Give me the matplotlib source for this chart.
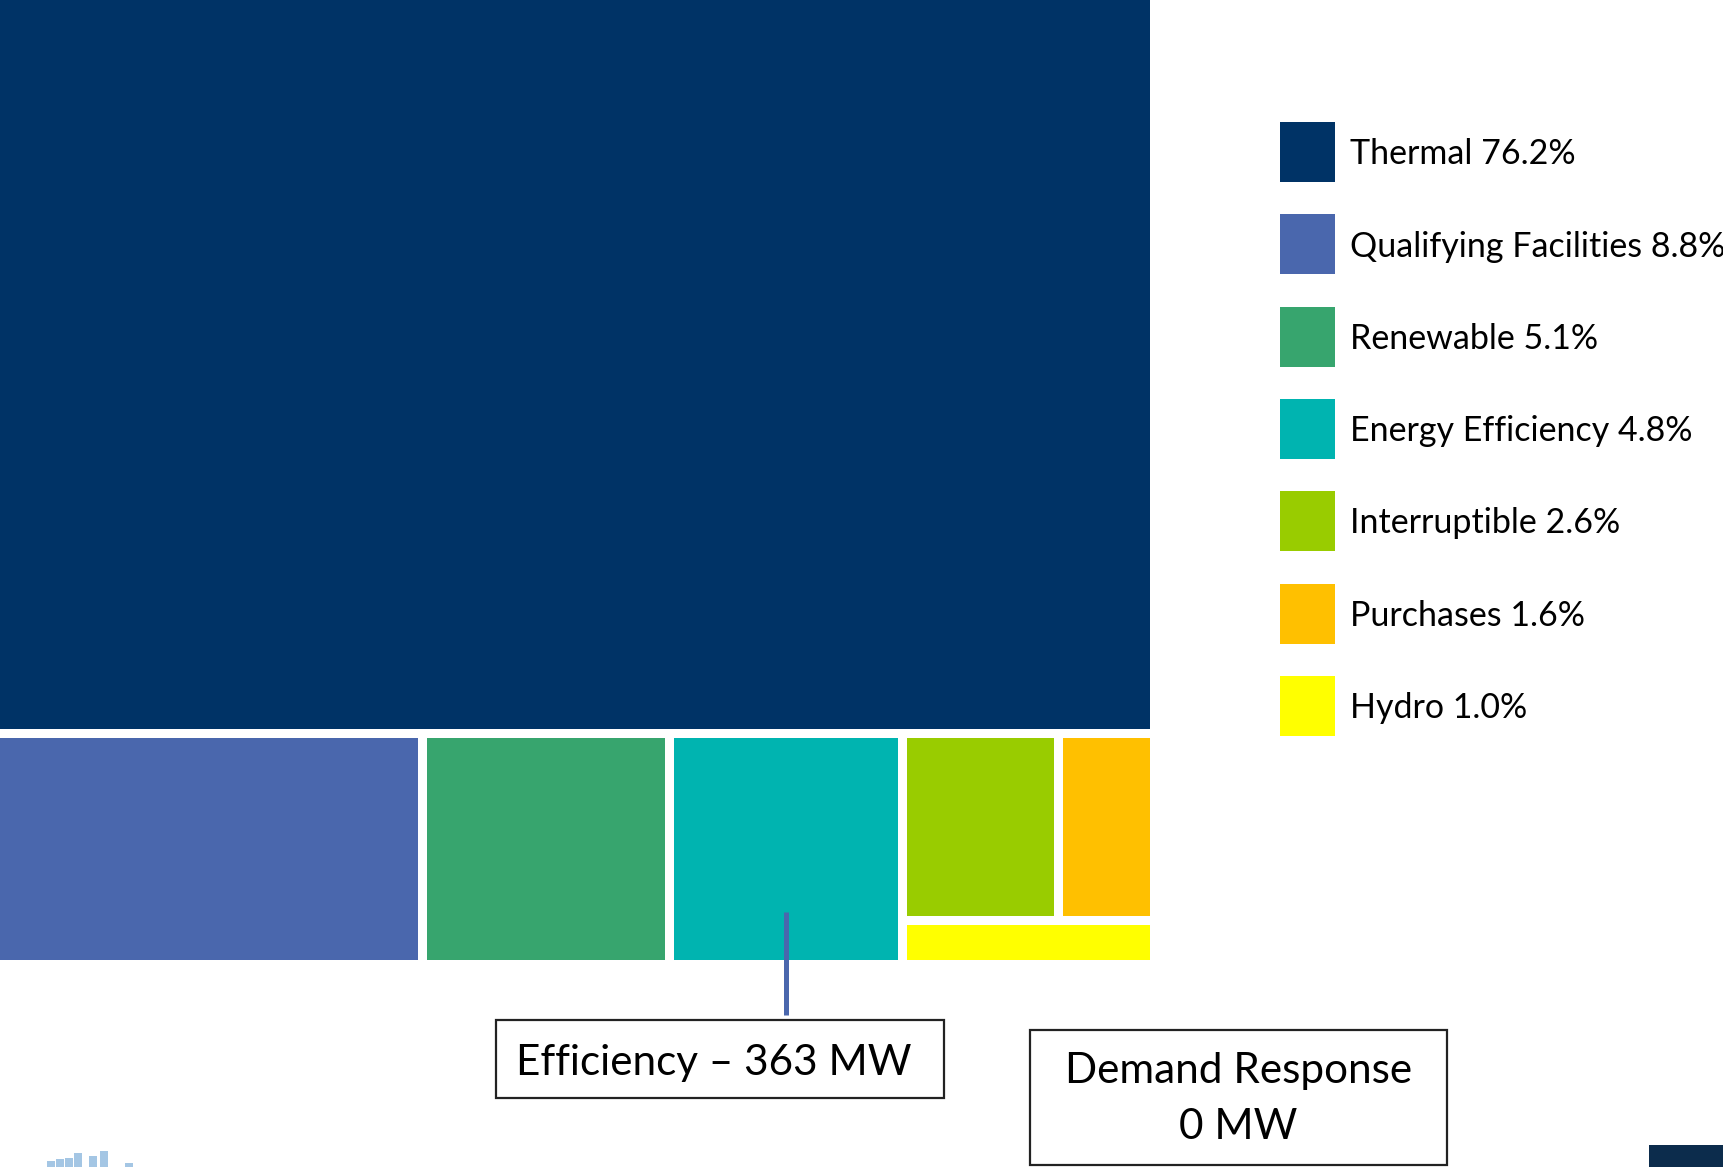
import matplotlib.pyplot as plt
from matplotlib.patches import Rectangle

# shares of capacity, percent
names = ['Thermal', 'Qualifying Facilities', 'Renewable', 'Energy Efficiency',
         'Interruptible', 'Purchases', 'Hydro']
values = [76.2, 8.8, 5.1, 4.8, 2.6, 1.6, 1.0]
colors = ['#003366', '#4A67AD', '#37A56E', '#00B4B0', '#99CC00', '#FFC000', '#FFFF00']
labels = [f'{n} {v:.1f}%' for n, v in zip(names, values)]

efficiency_note = 'Efficiency – 363 MW'
demand_note = 'Demand Response\n0 MW'

# faint logo bars in the lower left corner
logo_x = [47, 56, 65, 74, 89, 100, 125]
logo_h = [6, 8, 9, 14, 11, 16, 4]

W, H = 1723, 1167
DPI = 100
fig = plt.figure(figsize=(W / DPI, H / DPI), dpi=DPI)
FONT = ['Lato', 'DejaVu Sans']

# ---- treemap ----
gap = 4.5  # half of the white gap, px
ax = fig.add_axes([-gap / W, 1 - (960 + gap) / H, (1150 + 2 * gap) / W, (960 + 2 * gap) / H])
ax.set_xlim(0, 1)
ax.set_ylim(1, 0)
ax.axis('off')
gx = gap / (1150 + 2 * gap)
gy = gap / (960 + 2 * gap)

total = sum(values)
rects = []
# Thermal across the top
th = values[0] / total
rects.append((0, 0, 1, th))
# bottom row: three tiles + a group of the three smallest
rest = sum(values[1:])
x = 0
for v in values[1:4]:
    w = v / rest
    rects.append((x, th, w, 1 - th))
    x += w
grp = sum(values[4:])
gw = 1 - x
top_h = (1 - th) * (values[4] + values[5]) / grp
x2 = x
for v in values[4:6]:
    w = gw * v / (values[4] + values[5])
    rects.append((x2, th, w, top_h))
    x2 += w
rects.append((x, th + top_h, gw, 1 - th - top_h))

for (rx, ry, rw, rh), c in zip(rects, colors):
    ax.add_patch(Rectangle((rx + gx, ry + gy), rw - 2 * gx, rh - 2 * gy,
                           facecolor=c, edgecolor='none'))

# connector from Energy Efficiency tile down to its note
ex, ey, ew, eh = rects[3]
cx = ex + ew / 2
ax.plot([cx, cx], [(912 + gap) / (960 + 2 * gap), (1015 + gap) / (960 + 2 * gap)],
        color='#4A67AD', lw=3.6, solid_capstyle='butt', clip_on=False)

# ---- overlay in pixel coordinates ----
ov = fig.add_axes([0, 0, 1, 1])
ov.set_xlim(0, W)
ov.set_ylim(H, 0)
ov.axis('off')
ov.patch.set_alpha(0)

fig.canvas.draw()
renderer = fig.canvas.get_renderer()


def fit(t, target):
    bb = t.get_window_extent(renderer)
    t.set_fontsize(t.get_fontsize() * target / bb.width)
    return t.get_fontsize()


# legend
y0, pitch = 122, 92.3
ref = ov.text(1350, 0, labels[0], fontsize=25, family=FONT)
fs_leg = fit(ref, 226)
ref.remove()
for i, (lab, c) in enumerate(zip(labels, colors)):
    y = y0 + i * pitch
    ov.add_patch(Rectangle((1280, y), 55, 60, facecolor=c, edgecolor='none'))
    ov.text(1350, y + 30 + 0.36 * fs_leg * DPI / 72, lab, fontsize=fs_leg,
            family=FONT, va='baseline', ha='left', color='black')

# note boxes
ov.add_patch(Rectangle((496, 1020), 448, 78, facecolor='white', edgecolor='#222222', lw=1.6))
t1 = ov.text(516, 1075, efficiency_note, fontsize=32, family=FONT, va='baseline', ha='left')
fs_note = fit(t1, 396)

ov.add_patch(Rectangle((1030, 1030), 417, 135, facecolor='white', edgecolor='#222222', lw=1.6))
ov.text(1238.5, 1099, demand_note, fontsize=fs_note, family=FONT, ha='center', va='center',
        linespacing=1.55, multialignment='center')

# dark tab in the lower right corner
ov.add_patch(Rectangle((1649, 1145), 80, 30, facecolor='#0C2C4C', edgecolor='none'))

# logo fragment
for lx, lh in zip(logo_x, logo_h):
    ov.add_patch(Rectangle((lx, H - lh), 8, lh, facecolor='#8DB8DE', edgecolor='none', alpha=0.8))

fig.savefig('out.png', dpi=DPI)
